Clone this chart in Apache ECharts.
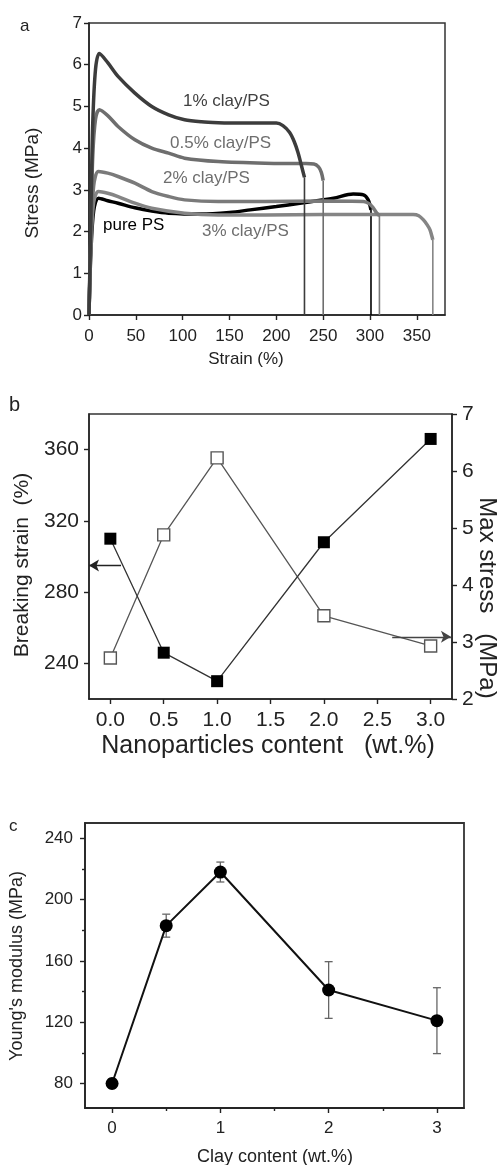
<!DOCTYPE html>
<html>
<head>
<meta charset="utf-8">
<script src="https://cdn.jsdelivr.net/npm/echarts@6/dist/echarts.min.js"></script>
<style>
  html, body { margin: 0; padding: 0; background: #fff; }
  #chart { width: 501px; height: 1165px; }
</style>
</head>
<body>
<div id="chart"></div>
<script>
// ---- panel a: stress-strain curves (strain %, stress MPa) ----
const strainPure = [0, 2, 5, 10, 20, 31, 49, 67, 85, 120, 150, 172, 200, 225, 261, 282, 293, 298, 301];
const stressPure = [0, 1.5, 2.5, 2.8, 2.74, 2.68, 2.57, 2.49, 2.44, 2.42, 2.46, 2.52, 2.6, 2.68, 2.8, 2.9, 2.88, 2.76, 2.52];
const strain05 = [0, 2, 4, 7, 11, 20, 31, 49, 67, 85, 102, 138, 188, 230, 240, 245, 248, 250];
const stress05 = [0, 2.0, 3.8, 4.7, 4.92, 4.78, 4.52, 4.2, 4.0, 3.88, 3.76, 3.68, 3.64, 3.63, 3.62, 3.55, 3.42, 3.22];
const strain1 = [0, 2, 4, 7, 11, 20, 31, 49, 67, 85, 102, 120, 138, 160, 188, 200, 207, 214, 219, 223, 227, 230];
const stress1 = [0, 2.4, 4.6, 5.9, 6.27, 6.05, 5.72, 5.32, 5.0, 4.8, 4.68, 4.63, 4.61, 4.6, 4.6, 4.6, 4.54, 4.38, 4.16, 3.9, 3.56, 3.3];
const strain2 = [0, 2, 5, 10, 20, 31, 49, 67, 85, 102, 138, 188, 250, 293, 299, 303, 307, 310];
const stress2 = [0, 1.8, 3.1, 3.44, 3.4, 3.32, 3.16, 2.96, 2.84, 2.76, 2.72, 2.72, 2.73, 2.72, 2.67, 2.58, 2.45, 2.38];
const strain3 = [0, 2, 5, 10, 20, 31, 49, 67, 102, 138, 188, 250, 300, 346, 352, 357, 361, 364, 367];
const stress3 = [0, 1.6, 2.7, 2.96, 2.92, 2.84, 2.68, 2.56, 2.44, 2.4, 2.4, 2.41, 2.41, 2.41, 2.38, 2.28, 2.16, 2.04, 1.8];
const curveNames = ['pure PS', '3% clay/PS', '2% clay/PS', '0.5% clay/PS', '1% clay/PS'];
const strainTicks = [0, 50, 100, 150, 200, 250, 300, 350];
const stressTicks = [0, 1, 2, 3, 4, 5, 6, 7];

// ---- panel b: breaking strain and max stress vs nanoparticle content ----
const nanoContent = [0.0, 0.5, 1.0, 2.0, 3.0];
const breakingStrain = [310, 246, 230, 308, 366];
const maxStress = [2.72, 4.88, 6.23, 3.46, 2.93];
const contentTicks = [0, 0.5, 1.0, 1.5, 2.0, 2.5, 3.0];
const strainAxisTicks = [240, 280, 320, 360];
const maxStressTicks = [2, 3, 4, 5, 6, 7];

// ---- panel c: Young's modulus vs clay content ----
const clayContent = [0, 0.5, 1, 2, 3];
const modulus = [80, 183, 218, 141, 121];
const modulusErr = [3, 7.5, 6.5, 18.5, 21.5];
const clayTicks = [0, 1, 2, 3];
const clayMinorTicks = [0.5, 1.5, 2.5];
const modulusTicks = [80, 120, 160, 200, 240];
const modulusMinorTicks = [100, 140, 180, 220];

const FONT = '"Liberation Sans", Arial, sans-serif';
const zip = (a, b) => a.map((v, i) => [v, b[i]]);

// axis with line + labels (ticks are drawn by separate tick-only axes)
function axis(grid, min, max, labels, size, margin, extra) {
  return Object.assign({
    type: 'value', gridIndex: grid, min: min, max: max,
    axisLine: { show: true, onZero: false, lineStyle: { color: '#222', width: 1.5 } },
    axisTick: { show: false },
    axisLabel: { customValues: labels, color: '#222', fontFamily: FONT, fontSize: size, margin: margin },
    splitLine: { show: false }
  }, extra || {});
}
function tickAxis(grid, min, max, ticks, pos, len) {
  return {
    type: 'value', gridIndex: grid, min: min, max: max, position: pos,
    axisLine: { show: false, onZero: false },
    axisTick: { show: true, length: len, customValues: ticks, lineStyle: { color: '#222', width: 1.4 } },
    axisLabel: { show: false }, splitLine: { show: false }
  };
}

const curves = [
  { x: strainPure, y: stressPure, color: '#000000' },
  { x: strain3, y: stress3, color: '#858585' },
  { x: strain2, y: stress2, color: '#7a7a7a' },
  { x: strain05, y: stress05, color: '#6e6e6e' },
  { x: strain1, y: stress1, color: '#3c3c3c' }
];
const curveSeries = [];
curves.forEach((c, i) => {
  const n = c.x.length - 1;
  curveSeries.push({
    name: curveNames[i], type: 'line', xAxisIndex: 0, yAxisIndex: 0,
    data: zip(c.x, c.y), showSymbol: false, smooth: 0.3,
    lineStyle: { color: c.color, width: 3.5 }
  });
  curveSeries.push({
    type: 'line', xAxisIndex: 0, yAxisIndex: 0,
    data: [[c.x[n], c.y[n]], [c.x[n], 0]], showSymbol: false,
    lineStyle: { color: c.color, width: 1.6 }
  });
});

const txt = (text, x, y, size, color) => ({
  type: 'text', x: x, y: y,
  style: { text: text, fill: color || '#222', font: size + 'px ' + FONT, textVerticalAlign: 'middle' }
});
const rotTxt = (text, x, y, size, rot) => ({
  type: 'text', x: x, y: y, rotation: rot,
  style: { text: text, fill: '#222', font: size + 'px ' + FONT, textAlign: 'center', textVerticalAlign: 'middle' }
});

const chart = echarts.init(document.getElementById('chart'));
chart.setOption({
  animation: false,
  backgroundColor: '#fff',
  grid: [
    { left: 89, top: 23, width: 356, height: 292, show: true, borderColor: '#333', borderWidth: 1.5 },
    { left: 89, top: 414, width: 363, height: 285, show: true, borderColor: '#333', borderWidth: 1.5 },
    { left: 85, top: 823, width: 379, height: 285, show: true, borderColor: '#333', borderWidth: 1.8 }
  ],
  xAxis: [
    axis(0, 0, 380, strainTicks, 17, 13),
    axis(1, -0.2, 3.2, contentTicks, 21, 11, {
      axisLabel: { customValues: contentTicks, color: '#222', fontFamily: FONT, fontSize: 21, margin: 11,
        formatter: v => v.toFixed(1) } }),
    axis(2, -0.25, 3.25, clayTicks, 17, 12),
    tickAxis(0, 0, 380, strainTicks, 'bottom', 5),
    tickAxis(1, -0.2, 3.2, contentTicks, 'bottom', 5),
    tickAxis(2, -0.25, 3.25, clayTicks, 'bottom', 5),
    tickAxis(2, -0.25, 3.25, clayMinorTicks, 'bottom', 3)
  ],
  yAxis: [
    axis(0, 0, 7, stressTicks, 17, 7),
    axis(1, 220, 380, strainAxisTicks, 21, 10, { position: 'left' }),
    axis(1, 2, 7, maxStressTicks, 21, 10, { position: 'right' }),
    axis(2, 64, 250, modulusTicks, 17, 12),
    tickAxis(0, 0, 7, stressTicks, 'left', 5),
    tickAxis(1, 220, 380, strainAxisTicks, 'left', 5),
    tickAxis(1, 2, 7, maxStressTicks, 'right', 5),
    tickAxis(2, 64, 250, modulusTicks, 'left', 5),
    tickAxis(2, 64, 250, modulusMinorTicks, 'left', 3)
  ],
  series: curveSeries.concat([
    {
      name: 'Breaking strain', type: 'line', xAxisIndex: 1, yAxisIndex: 1,
      data: zip(nanoContent, breakingStrain), symbol: 'rect', symbolSize: 12,
      itemStyle: { color: '#000' }, lineStyle: { color: '#333', width: 1.3 }, z: 3,
      markLine: {
        silent: true, symbol: ['none', 'arrow'], symbolSize: [9, 10],
        label: { show: false }, lineStyle: { color: '#222', width: 1.4, type: 'solid' },
        data: [[{ coord: [0.1, 295] }, { coord: [-0.2, 295] }]]
      }
    },
    {
      name: 'Max stress', type: 'line', xAxisIndex: 1, yAxisIndex: 2,
      data: zip(nanoContent, maxStress), symbol: 'rect', symbolSize: 12,
      itemStyle: { color: '#fff', borderColor: '#555', borderWidth: 1.4 },
      lineStyle: { color: '#555', width: 1.3 }, z: 2,
      markLine: {
        silent: true, symbol: ['none', 'arrow'], symbolSize: [9, 10],
        label: { show: false }, lineStyle: { color: '#444', width: 1.4, type: 'solid' },
        data: [[{ coord: [2.64, 3.09] }, { coord: [3.19, 3.09] }]]
      }
    },
    {
      type: 'custom', xAxisIndex: 2, yAxisIndex: 3, z: 1,
      data: clayContent.map((v, i) => [v, modulus[i], modulusErr[i]]),
      encode: { x: 0, y: 1 },
      renderItem: function (params, api) {
        const x = api.value(0), y = api.value(1), e = api.value(2);
        const top = api.coord([x, y + e]);
        const bot = api.coord([x, y - e]);
        const st = { stroke: '#666', lineWidth: 1.3 };
        return {
          type: 'group', children: [
            { type: 'line', shape: { x1: top[0], y1: top[1], x2: bot[0], y2: bot[1] }, style: st },
            { type: 'line', shape: { x1: top[0] - 4, y1: top[1], x2: top[0] + 4, y2: top[1] }, style: st },
            { type: 'line', shape: { x1: bot[0] - 4, y1: bot[1], x2: bot[0] + 4, y2: bot[1] }, style: st }
          ]
        };
      }
    },
    {
      name: "Young's modulus", type: 'line', xAxisIndex: 2, yAxisIndex: 3,
      data: zip(clayContent, modulus), symbol: 'circle', symbolSize: 13,
      itemStyle: { color: '#000' }, lineStyle: { color: '#111', width: 2 }, z: 3
    }
  ]),
  graphic: [
    txt('a', 20, 26, 17),
    txt('1% clay/PS', 183, 101, 17, '#404040'),
    txt('0.5% clay/PS', 170, 143, 17, '#6e6e6e'),
    txt('2% clay/PS', 163, 178, 17, '#6e6e6e'),
    txt('pure PS', 103, 225, 17, '#000'),
    txt('3% clay/PS', 202, 231, 17, '#6e6e6e'),
    rotTxt('Stress (MPa)', 33, 183, 19, Math.PI / 2),
    rotTxt('Strain (%)', 246, 359, 17, 0),
    txt('b', 9, 405, 20),
    rotTxt('Breaking strain  (%)', 22, 565, 21, Math.PI / 2),
    rotTxt('Max stress   (MPa)', 487, 598, 24, -Math.PI / 2),
    rotTxt('Nanoparticles content   (wt.%)', 268, 746, 25, 0),
    txt('c', 9, 826, 17),
    rotTxt("Young's modulus (MPa)", 17, 966, 18, Math.PI / 2),
    rotTxt('Clay content (wt.%)', 275, 1157, 18, 0)
  ]
});
</script>
</body>
</html>
